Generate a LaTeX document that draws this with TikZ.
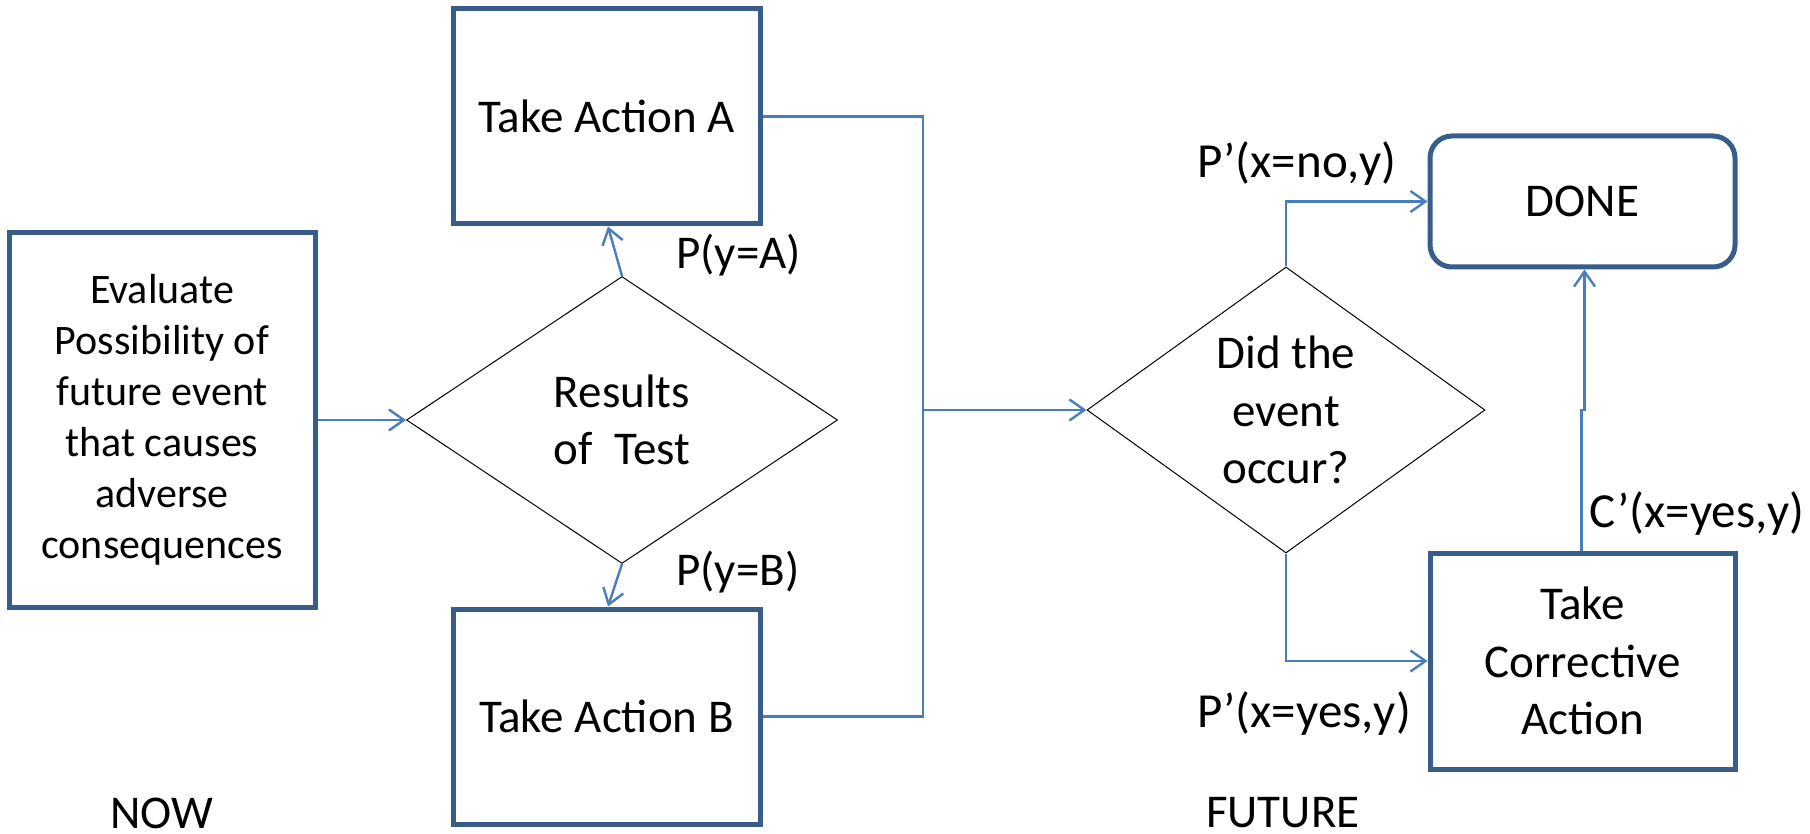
\documentclass[tikz,border=0pt]{standalone}
\usepackage{fontspec}
\setmainfont{Carlito}
\usetikzlibrary{shapes.geometric,arrows.meta}
\definecolor{boxblue}{HTML}{385D8A}
\definecolor{linkblue}{HTML}{4A7EBB}
\tikzset{
  every node/.style={font=\fontsize{47}{57.5}\selectfont},
  actbox/.style={draw=boxblue, line width=5pt, align=center, inner sep=0pt},
  decide/.style={draw=black, line width=1pt, shape=diamond, aspect=1.5, inner sep=0pt, align=center},
  arr/.style={draw=linkblue, line width=2.4pt, -{Straight Barb[length=15pt,width=21pt,line width=2.4pt]}},
  wire/.style={draw=linkblue, line width=2.4pt},
  lbl/.style={anchor=base west, inner sep=0pt},
  primelbl/.style={lbl, font=\fontsize{49}{58}\selectfont},
}
\begin{document}
\begin{tikzpicture}[x=1pt,y=-1pt]
\useasboundingbox (0,0) rectangle (1810,834);

% process boxes
\node[actbox, minimum width=306, minimum height=374, font=\fontsize{42}{51}\selectfont] (eval) at (162,420)
  {Evaluate\\Possibility of\\future event\\that causes\\adverse\\consequences};
\node[actbox, minimum width=307, minimum height=215] (actA) at (606.5,116.5) {Take Action A};
\node[actbox, minimum width=307, minimum height=215] (actB) at (606.5,716.5) {Take Action B};
\node[actbox, rounded corners=22pt, minimum width=305, minimum height=131] (done) at (1582.5,201.5) {DONE};
\node[actbox, minimum width=305, minimum height=216] (corr) at (1582.5,661) {Take\\Corrective\\Action};

% decisions
\node[decide, minimum width=431, minimum height=287] (test) at (622,420) {Results\\of\ \ Test};
\node[decide, minimum width=398, minimum height=286] (occur) at (1286,410) {Did the\\event\\occur?};

% connectors
\draw[arr] (eval.east) -- (test.west);
\draw[arr] (test.north) -- ([xshift=1.5pt]actA.south);
\draw[arr] (test.south) -- ([xshift=1.5pt]actB.north);
\coordinate (bus) at (923,410);
\draw[wire] (actA.east) -| (bus) |- (actB.east);
\draw[arr] (bus) -- (occur.west);
\draw[arr] (occur.north) |- (done.west);
\draw[arr] (occur.south) |- (corr.west);
\coordinate (jog) at (1581.5,410);
\draw[arr] ([xshift=-1pt]corr.north) -- (jog) -- ++(3,0) -- ([xshift=2pt]done.south);

% branch labels
\node[lbl] (pa) at (676,269) {P(y=A)};
\node[lbl] (pb) at (676,585) {P(y=B)};
\node[primelbl] (pno) at (1197,178) {P’(x=no,y)};
\node[primelbl] (pyes) at (1197,727) {P’(x=yes,y)};
\node[primelbl] (cyes) at (1589,527) {C’(x=yes,y)};

% time markers
\node[anchor=base, inner sep=0pt] (now) at (162,828) {NOW};
\node[lbl] (future) at (1206,827) {FUTURE};
\end{tikzpicture}
\end{document}
